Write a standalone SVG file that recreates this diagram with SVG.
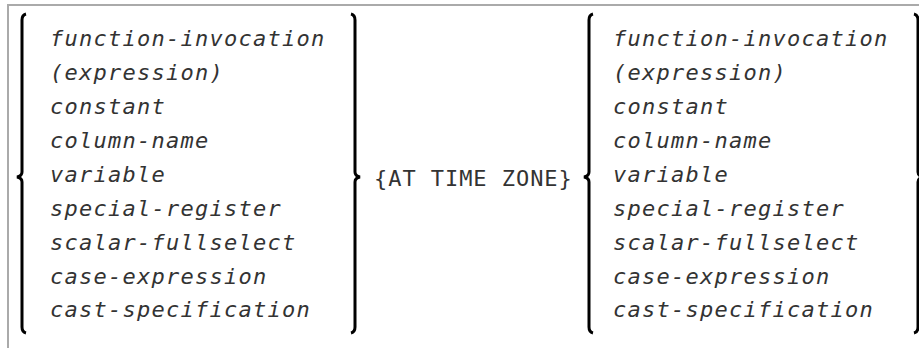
<svg xmlns="http://www.w3.org/2000/svg" width="919" height="348" viewBox="0 0 919 348">
<style>
.frame{fill:none;stroke:#aaaaaa;stroke-width:2}
.br{fill:none;stroke:#000;stroke-width:3;stroke-linecap:butt;stroke-linejoin:miter}
.t{font-family:"DejaVu Sans Mono",monospace;font-size:22px;letter-spacing:1.25px;fill:#333}
.i{font-style:italic}
.m{letter-spacing:0.95px}
</style>
<rect width="919" height="348" fill="#fff"/>
<path class="frame" d="M919,5 H8 V348"/>
<g id="connectors">
<path class="br" d="M26,14 Q22,15 22,20 V172 Q22,176 17,177 Q22,178 22,182 V327 Q22,332 26,333"/>
<path class="br" d="M351,14 Q355,15 355,20 V172 Q355,176 360,177 Q355,178 355,182 V327 Q355,332 351,333"/>
<path class="br" d="M593,14 Q589,15 589,20 V172 Q589,176 584,177 Q589,178 589,182 V327 Q589,332 593,333"/>
<path class="br" d="M914,14 Q918,15 918,20 V172 Q918,176 923,177 Q918,178 918,182 V327 Q918,332 914,333"/>
</g>
<g id="left-group" class="t i">
<text x="50" y="46">function-invocation</text>
<text x="50" y="80">(expression)</text>
<text x="50" y="114">constant</text>
<text x="50" y="148">column-name</text>
<text x="50" y="182">variable</text>
<text x="50" y="216">special-register</text>
<text x="50" y="250">scalar-fullselect</text>
<text x="50" y="284">case-expression</text>
<text x="50" y="317">cast-specification</text>
</g>
<g id="middle"><text class="t m" x="374" y="186">{AT TIME ZONE}</text></g>
<g id="right-group" class="t i">
<text x="613" y="46">function-invocation</text>
<text x="613" y="80">(expression)</text>
<text x="613" y="114">constant</text>
<text x="613" y="148">column-name</text>
<text x="613" y="182">variable</text>
<text x="613" y="216">special-register</text>
<text x="613" y="250">scalar-fullselect</text>
<text x="613" y="284">case-expression</text>
<text x="613" y="317">cast-specification</text>
</g>
</svg>
